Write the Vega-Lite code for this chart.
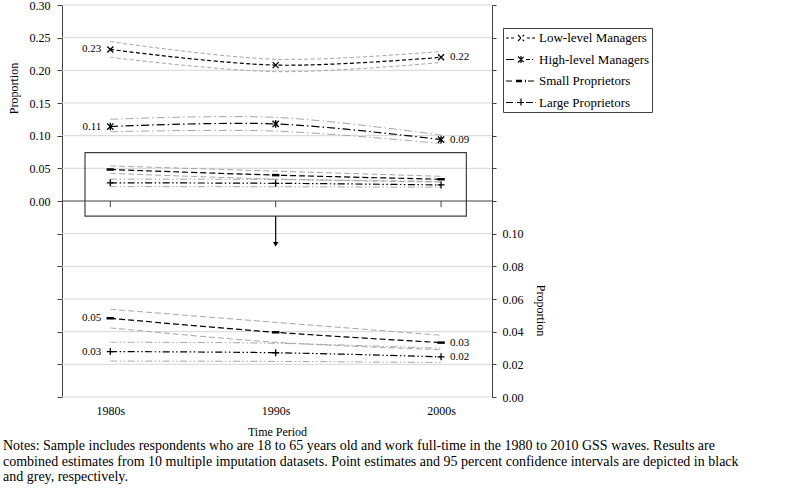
{
  "$schema": "https://vega.github.io/schema/vega-lite/v6.json",
  "width": 430,
  "height": 392,
  "autosize": {"type": "none"},
  "padding": {"left": 62, "top": 5, "right": 308, "bottom": 101},
  "background": "white",
  "config": {
    "view": {"stroke": null},
    "font": "Liberation Serif",
    "axis": {
      "labelFont": "Liberation Serif", "labelFontSize": 12, "labelColor": "black",
      "titleFont": "Liberation Serif", "titleFontSize": 12, "titleFontWeight": "normal", "titleColor": "black",
      "domainColor": "#404040", "tickColor": "#404040",
      "labelFlush": false, "labelOverlap": false
    }
  },
  "title": {
    "text": [
      "Notes: Sample includes respondents who are 18 to 65 years old and work full-time in the 1980 to 2010 GSS waves. Results are",
      "combined estimates from 10 multiple imputation datasets. Point estimates and 95 percent confidence intervals are depicted in black",
      "and grey, respectively."
    ],
    "orient": "bottom", "anchor": "start", "frame": "group",
    "font": "Liberation Serif", "fontSize": 14, "fontWeight": "normal", "color": "black",
    "lineHeight": 15.5, "dx": -59, "offset": 2
  },
  "datasets": {
    "est": [
      {"period": 1980, "series": "Low-level Managers", "est": 0.232, "lo": 0.220, "hi": 0.244},
      {"period": 1990, "series": "Low-level Managers", "est": 0.208, "lo": 0.198, "hi": 0.217},
      {"period": 2000, "series": "Low-level Managers", "est": 0.220, "lo": 0.212, "hi": 0.229},
      {"period": 1980, "series": "High-level Managers", "est": 0.114, "lo": 0.106, "hi": 0.125},
      {"period": 1990, "series": "High-level Managers", "est": 0.118, "lo": 0.107, "hi": 0.128},
      {"period": 2000, "series": "High-level Managers", "est": 0.094, "lo": 0.088, "hi": 0.101},
      {"period": 1980, "series": "Small Proprietors", "est": 0.0482, "lo": 0.0423, "hi": 0.0537},
      {"period": 1990, "series": "Small Proprietors", "est": 0.0396, "lo": 0.0335, "hi": 0.0457},
      {"period": 2000, "series": "Small Proprietors", "est": 0.0333, "lo": 0.0290, "hi": 0.0378},
      {"period": 1980, "series": "Large Proprietors", "est": 0.0278, "lo": 0.0220, "hi": 0.0335},
      {"period": 1990, "series": "Large Proprietors", "est": 0.0271, "lo": 0.0218, "hi": 0.0329},
      {"period": 2000, "series": "Large Proprietors", "est": 0.0246, "lo": 0.0211, "hi": 0.0298}
    ],
    "gridlines": [
      {"v": -0.3}, {"v": -0.25}, {"v": -0.2}, {"v": -0.15}, {"v": -0.1}, {"v": -0.05},
      {"v": 0.05}, {"v": 0.1}, {"v": 0.15}, {"v": 0.2}, {"v": 0.25}, {"v": 0.3}
    ],
    "box": [{"x1": 1978.47, "x2": 2001.53, "y1": 0.0739, "y2": -0.023}],
    "arrow": [{"period": 1990, "y1": -0.023, "y2": -0.0628, "tip": -0.0662}]
  },
  "data": {"name": "est"},
  "layer": [
    {
      "layer": [
        {
          "data": {"name": "gridlines"},
          "mark": {"type": "rule", "color": "#d6d6d6", "strokeWidth": 1},
          "encoding": {
            "y": {"field": "v", "type": "quantitative",
              "scale": {"domain": [-0.3, 0.3], "nice": false, "zero": false},
              "axis": {"orient": "left", "values": [-0.3, -0.25, -0.2, -0.15, -0.1, -0.05, 0, 0.05, 0.1, 0.15, 0.2, 0.25, 0.3], "format": ".2f", "labelExpr": "datum.value > -0.001 ? datum.label : ''", "title": "Proportion", "titleX": -49, "titleY": 83, "titleAngle": -90, "titleBaseline": "middle", "grid": false, "tickSize": 5, "labelPadding": 7}}
          }
        },
        {
          "mark": {"type": "line", "interpolate": "catmull-rom", "color": "#a6a6a6", "strokeWidth": 1},
          "encoding": {
            "x": {"field": "period", "type": "quantitative",
              "scale": {"domain": [1977.08, 2003.08], "nice": false, "zero": false},
              "axis": {"values": [1980, 1990, 2000], "labelExpr": "datum.value + 's'", "ticks": false, "domain": false, "grid": false, "title": "Time Period", "labelPadding": 8, "titlePadding": 10}},
            "y": {"field": "hi", "type": "quantitative",
              "axis": {"orient": "left", "values": [-0.3, -0.25, -0.2, -0.15, -0.1, -0.05, 0, 0.05, 0.1, 0.15, 0.2, 0.25, 0.3], "format": ".2f", "labelExpr": "datum.value > -0.001 ? datum.label : ''", "title": "Proportion", "titleX": -49, "titleY": 83, "titleAngle": -90, "titleBaseline": "middle", "grid": false, "tickSize": 5, "labelPadding": 7}},
            "strokeDash": {"field": "series", "type": "nominal",
              "scale": {"domain": ["Low-level Managers", "High-level Managers", "Small Proprietors", "Large Proprietors"],
                "range": [[4, 2.5], [8, 3, 1.5, 3], [6, 3], [7, 2.5, 1.5, 2.5, 1.5, 2.5]]},
              "legend": {
                "orient": "none", "legendX": 441, "legendY": 23, "title": null,
                "symbolType": "stroke", "symbolSize": 196, "symbolStrokeWidth": 1.2, "symbolStrokeColor": "black",
                "labelFont": "Liberation Serif", "labelFontSize": 13, "labelColor": "black",
                "strokeColor": "#404040", "fillColor": "white", "padding": 2, "rowPadding": 6.5, "labelOffset": 18,
                "encode": {"symbols": {"update": {
                  "shape": {"signal": "datum.value === 'Low-level Managers' ? 'M-1,0L-0.571,0M-0.286,0L0.143,0M0.714,-0.429L1.571,0.429M0.714,0.429L1.571,-0.429M2,0L2.429,0M2.714,0L3.143,0' : datum.value === 'High-level Managers' ? 'M-1,0L0.286,0M0.714,-0.429L1.571,0.429M0.714,0.429L1.571,-0.429M1.143,-0.5L1.143,0.5M1.857,0L2.429,0M2.714,0L2.857,0' : datum.value === 'Small Proprietors' ? 'M-1,0L0.143,0M0.429,0L1.857,0M0.429,-0.08L1.857,-0.08M0.429,0.08L1.857,0.08M2.143,0L3.286,0' : 'M-1,0L0.429,0M0.571,0L1.714,0M1.143,-0.571L1.143,0.571M1.857,0L3.286,0'"},
                  "size": {"value": 196},
                  "strokeWidth": {"value": 1.2},
                  "strokeDash": {"value": []},
                  "stroke": {"value": "black"}
                }}}
              }}
          }
        },
        {
          "mark": {"type": "line", "interpolate": "catmull-rom", "color": "#a6a6a6", "strokeWidth": 1},
          "encoding": {
            "x": {"field": "period", "type": "quantitative", "axis": {"values": [1980, 1990, 2000], "labelExpr": "datum.value + 's'", "ticks": false, "domain": false, "grid": false, "title": "Time Period", "labelPadding": 8, "titlePadding": 10}},
            "y": {"field": "lo", "type": "quantitative", "axis": {"orient": "left", "values": [-0.3, -0.25, -0.2, -0.15, -0.1, -0.05, 0, 0.05, 0.1, 0.15, 0.2, 0.25, 0.3], "format": ".2f", "labelExpr": "datum.value > -0.001 ? datum.label : ''", "title": "Proportion", "titleX": -49, "titleY": 83, "titleAngle": -90, "titleBaseline": "middle", "grid": false, "tickSize": 5, "labelPadding": 7}},
            "strokeDash": {"field": "series", "type": "nominal", "legend": null}
          }
        },
        {
          "mark": {"type": "line", "interpolate": "catmull-rom", "color": "black", "strokeWidth": 1.2},
          "encoding": {
            "x": {"field": "period", "type": "quantitative", "axis": {"values": [1980, 1990, 2000], "labelExpr": "datum.value + 's'", "ticks": false, "domain": false, "grid": false, "title": "Time Period", "labelPadding": 8, "titlePadding": 10}},
            "y": {"field": "est", "type": "quantitative", "axis": {"orient": "left", "values": [-0.3, -0.25, -0.2, -0.15, -0.1, -0.05, 0, 0.05, 0.1, 0.15, 0.2, 0.25, 0.3], "format": ".2f", "labelExpr": "datum.value > -0.001 ? datum.label : ''", "title": "Proportion", "titleX": -49, "titleY": 83, "titleAngle": -90, "titleBaseline": "middle", "grid": false, "tickSize": 5, "labelPadding": 7}},
            "strokeDash": {"field": "series", "type": "nominal", "legend": null}
          }
        },
        {
          "mark": {"type": "point", "filled": false, "color": "black", "opacity": 1},
          "encoding": {
            "x": {"field": "period", "type": "quantitative", "axis": {"values": [1980, 1990, 2000], "labelExpr": "datum.value + 's'", "ticks": false, "domain": false, "grid": false, "title": "Time Period", "labelPadding": 8, "titlePadding": 10}},
            "y": {"field": "est", "type": "quantitative", "axis": {"orient": "left", "values": [-0.3, -0.25, -0.2, -0.15, -0.1, -0.05, 0, 0.05, 0.1, 0.15, 0.2, 0.25, 0.3], "format": ".2f", "labelExpr": "datum.value > -0.001 ? datum.label : ''", "title": "Proportion", "titleX": -49, "titleY": 83, "titleAngle": -90, "titleBaseline": "middle", "grid": false, "tickSize": 5, "labelPadding": 7}},
            "shape": {"condition": [
              {"test": "datum.series === 'Low-level Managers'", "value": "M-1,-1L1,1M-1,1L1,-1"},
              {"test": "datum.series === 'High-level Managers'", "value": "M-1,-1L1,1M-1,1L1,-1M0,-1.2L0,1.2"},
              {"test": "datum.series === 'Small Proprietors'", "value": "M-1,0L1,0"}],
              "value": "M-1,0L1,0M0,-1L0,1"},
            "size": {"condition": [
              {"test": "datum.series === 'Low-level Managers'", "value": 36},
              {"test": "datum.series === 'High-level Managers'", "value": 40},
              {"test": "datum.series === 'Small Proprietors'", "value": 56}],
              "value": 49},
            "strokeWidth": {"condition": {"test": "datum.series === 'Small Proprietors'", "value": 2.5}, "value": 1.3}
          }
        },
        {
          "transform": [{"filter": "datum.period === 1980 && (datum.series === 'Low-level Managers' || datum.series === 'High-level Managers')"}],
          "mark": {"type": "text", "align": "right", "baseline": "middle", "dx": -9, "font": "Liberation Serif", "fontSize": 11, "color": "black"},
          "encoding": {
            "x": {"field": "period", "type": "quantitative", "axis": {"values": [1980, 1990, 2000], "labelExpr": "datum.value + 's'", "ticks": false, "domain": false, "grid": false, "title": "Time Period", "labelPadding": 8, "titlePadding": 10}},
            "y": {"field": "est", "type": "quantitative", "axis": {"orient": "left", "values": [-0.3, -0.25, -0.2, -0.15, -0.1, -0.05, 0, 0.05, 0.1, 0.15, 0.2, 0.25, 0.3], "format": ".2f", "labelExpr": "datum.value > -0.001 ? datum.label : ''", "title": "Proportion", "titleX": -49, "titleY": 83, "titleAngle": -90, "titleBaseline": "middle", "grid": false, "tickSize": 5, "labelPadding": 7}},
            "text": {"field": "est", "type": "quantitative", "format": ".2f"}
          }
        },
        {
          "transform": [{"filter": "datum.period === 2000 && (datum.series === 'Low-level Managers' || datum.series === 'High-level Managers')"}],
          "mark": {"type": "text", "align": "left", "baseline": "middle", "dx": 9, "font": "Liberation Serif", "fontSize": 11, "color": "black"},
          "encoding": {
            "x": {"field": "period", "type": "quantitative", "axis": {"values": [1980, 1990, 2000], "labelExpr": "datum.value + 's'", "ticks": false, "domain": false, "grid": false, "title": "Time Period", "labelPadding": 8, "titlePadding": 10}},
            "y": {"field": "est", "type": "quantitative", "axis": {"orient": "left", "values": [-0.3, -0.25, -0.2, -0.15, -0.1, -0.05, 0, 0.05, 0.1, 0.15, 0.2, 0.25, 0.3], "format": ".2f", "labelExpr": "datum.value > -0.001 ? datum.label : ''", "title": "Proportion", "titleX": -49, "titleY": 83, "titleAngle": -90, "titleBaseline": "middle", "grid": false, "tickSize": 5, "labelPadding": 7}},
            "text": {"field": "est", "type": "quantitative", "format": ".2f"}
          }
        },
        {
          "data": {"name": "box"},
          "mark": {"type": "rule", "color": "#404040", "strokeWidth": 1.2},
          "encoding": {"y": {"datum": 0, "type": "quantitative", "axis": {"orient": "left", "values": [-0.3, -0.25, -0.2, -0.15, -0.1, -0.05, 0, 0.05, 0.1, 0.15, 0.2, 0.25, 0.3], "format": ".2f", "labelExpr": "datum.value > -0.001 ? datum.label : ''", "title": "Proportion", "titleX": -49, "titleY": 83, "titleAngle": -90, "titleBaseline": "middle", "grid": false, "tickSize": 5, "labelPadding": 7}}}
        },
        {
          "transform": [{"filter": "datum.series === 'Low-level Managers'"}],
          "mark": {"type": "rule", "color": "#404040", "strokeWidth": 1},
          "encoding": {
            "x": {"field": "period", "type": "quantitative", "axis": {"values": [1980, 1990, 2000], "labelExpr": "datum.value + 's'", "ticks": false, "domain": false, "grid": false, "title": "Time Period", "labelPadding": 8, "titlePadding": 10}},
            "y": {"datum": 0, "type": "quantitative", "axis": {"orient": "left", "values": [-0.3, -0.25, -0.2, -0.15, -0.1, -0.05, 0, 0.05, 0.1, 0.15, 0.2, 0.25, 0.3], "format": ".2f", "labelExpr": "datum.value > -0.001 ? datum.label : ''", "title": "Proportion", "titleX": -49, "titleY": 83, "titleAngle": -90, "titleBaseline": "middle", "grid": false, "tickSize": 5, "labelPadding": 7}},
            "y2": {"datum": -0.0095}
          }
        },
        {
          "data": {"name": "box"},
          "mark": {"type": "rect", "filled": false, "color": "#404040", "strokeWidth": 1.2},
          "encoding": {
            "x": {"field": "x1", "type": "quantitative", "axis": {"values": [1980, 1990, 2000], "labelExpr": "datum.value + 's'", "ticks": false, "domain": false, "grid": false, "title": "Time Period", "labelPadding": 8, "titlePadding": 10}},
            "x2": {"field": "x2"},
            "y": {"field": "y1", "type": "quantitative", "axis": {"orient": "left", "values": [-0.3, -0.25, -0.2, -0.15, -0.1, -0.05, 0, 0.05, 0.1, 0.15, 0.2, 0.25, 0.3], "format": ".2f", "labelExpr": "datum.value > -0.001 ? datum.label : ''", "title": "Proportion", "titleX": -49, "titleY": 83, "titleAngle": -90, "titleBaseline": "middle", "grid": false, "tickSize": 5, "labelPadding": 7}},
            "y2": {"field": "y2"}
          }
        },
        {
          "data": {"name": "arrow"},
          "mark": {"type": "rule", "color": "black", "strokeWidth": 1.2},
          "encoding": {
            "x": {"field": "period", "type": "quantitative", "axis": {"values": [1980, 1990, 2000], "labelExpr": "datum.value + 's'", "ticks": false, "domain": false, "grid": false, "title": "Time Period", "labelPadding": 8, "titlePadding": 10}},
            "y": {"field": "y1", "type": "quantitative", "axis": {"orient": "left", "values": [-0.3, -0.25, -0.2, -0.15, -0.1, -0.05, 0, 0.05, 0.1, 0.15, 0.2, 0.25, 0.3], "format": ".2f", "labelExpr": "datum.value > -0.001 ? datum.label : ''", "title": "Proportion", "titleX": -49, "titleY": 83, "titleAngle": -90, "titleBaseline": "middle", "grid": false, "tickSize": 5, "labelPadding": 7}},
            "y2": {"field": "y2"}
          }
        },
        {
          "data": {"name": "arrow"},
          "mark": {"type": "point", "shape": "triangle-down", "filled": true, "color": "black", "size": 30, "opacity": 1},
          "encoding": {
            "x": {"field": "period", "type": "quantitative", "axis": {"values": [1980, 1990, 2000], "labelExpr": "datum.value + 's'", "ticks": false, "domain": false, "grid": false, "title": "Time Period", "labelPadding": 8, "titlePadding": 10}},
            "y": {"field": "tip", "type": "quantitative", "axis": {"orient": "left", "values": [-0.3, -0.25, -0.2, -0.15, -0.1, -0.05, 0, 0.05, 0.1, 0.15, 0.2, 0.25, 0.3], "format": ".2f", "labelExpr": "datum.value > -0.001 ? datum.label : ''", "title": "Proportion", "titleX": -49, "titleY": 83, "titleAngle": -90, "titleBaseline": "middle", "grid": false, "tickSize": 5, "labelPadding": 7}}
          }
        }
      ]
    },
    {
      "transform": [{"filter": "datum.series === 'Small Proprietors' || datum.series === 'Large Proprietors'"}],
      "layer": [
        {
          "mark": {"type": "line", "interpolate": "catmull-rom", "color": "#a6a6a6", "strokeWidth": 1},
          "encoding": {
            "x": {"field": "period", "type": "quantitative", "axis": {"values": [1980, 1990, 2000], "labelExpr": "datum.value + 's'", "ticks": false, "domain": false, "grid": false, "title": "Time Period", "labelPadding": 8, "titlePadding": 10}},
            "y": {"field": "hi", "type": "quantitative",
              "scale": {"domain": [0, 0.24], "nice": false, "zero": false},
              "axis": {"orient": "right", "values": [0, 0.02, 0.04, 0.06, 0.08, 0.1, 0.12, 0.14, 0.16, 0.18, 0.2, 0.22, 0.24], "format": ".2f", "labelExpr": "datum.value < 0.101 ? datum.label : ''", "title": "Proportion", "titleX": 48, "titleY": 305, "titleAngle": 90, "titleBaseline": "middle", "grid": false, "tickSize": 4, "labelPadding": 6}},
            "strokeDash": {"field": "series", "type": "nominal", "legend": null}
          }
        },
        {
          "mark": {"type": "line", "interpolate": "catmull-rom", "color": "#a6a6a6", "strokeWidth": 1},
          "encoding": {
            "x": {"field": "period", "type": "quantitative", "axis": {"values": [1980, 1990, 2000], "labelExpr": "datum.value + 's'", "ticks": false, "domain": false, "grid": false, "title": "Time Period", "labelPadding": 8, "titlePadding": 10}},
            "y": {"field": "lo", "type": "quantitative", "axis": {"orient": "right", "values": [0, 0.02, 0.04, 0.06, 0.08, 0.1, 0.12, 0.14, 0.16, 0.18, 0.2, 0.22, 0.24], "format": ".2f", "labelExpr": "datum.value < 0.101 ? datum.label : ''", "title": "Proportion", "titleX": 48, "titleY": 305, "titleAngle": 90, "titleBaseline": "middle", "grid": false, "tickSize": 4, "labelPadding": 6}},
            "strokeDash": {"field": "series", "type": "nominal", "legend": null}
          }
        },
        {
          "mark": {"type": "line", "interpolate": "catmull-rom", "color": "black", "strokeWidth": 1.2},
          "encoding": {
            "x": {"field": "period", "type": "quantitative", "axis": {"values": [1980, 1990, 2000], "labelExpr": "datum.value + 's'", "ticks": false, "domain": false, "grid": false, "title": "Time Period", "labelPadding": 8, "titlePadding": 10}},
            "y": {"field": "est", "type": "quantitative", "axis": {"orient": "right", "values": [0, 0.02, 0.04, 0.06, 0.08, 0.1, 0.12, 0.14, 0.16, 0.18, 0.2, 0.22, 0.24], "format": ".2f", "labelExpr": "datum.value < 0.101 ? datum.label : ''", "title": "Proportion", "titleX": 48, "titleY": 305, "titleAngle": 90, "titleBaseline": "middle", "grid": false, "tickSize": 4, "labelPadding": 6}},
            "strokeDash": {"field": "series", "type": "nominal", "legend": null}
          }
        },
        {
          "mark": {"type": "point", "filled": false, "color": "black", "opacity": 1},
          "encoding": {
            "x": {"field": "period", "type": "quantitative", "axis": {"values": [1980, 1990, 2000], "labelExpr": "datum.value + 's'", "ticks": false, "domain": false, "grid": false, "title": "Time Period", "labelPadding": 8, "titlePadding": 10}},
            "y": {"field": "est", "type": "quantitative", "axis": {"orient": "right", "values": [0, 0.02, 0.04, 0.06, 0.08, 0.1, 0.12, 0.14, 0.16, 0.18, 0.2, 0.22, 0.24], "format": ".2f", "labelExpr": "datum.value < 0.101 ? datum.label : ''", "title": "Proportion", "titleX": 48, "titleY": 305, "titleAngle": 90, "titleBaseline": "middle", "grid": false, "tickSize": 4, "labelPadding": 6}},
            "shape": {"condition": [
              {"test": "datum.series === 'Small Proprietors'", "value": "M-1,0L1,0"}],
              "value": "M-1,0L1,0M0,-1L0,1"},
            "size": {"condition": [
              {"test": "datum.series === 'Small Proprietors'", "value": 56}],
              "value": 49},
            "strokeWidth": {"condition": {"test": "datum.series === 'Small Proprietors'", "value": 2.5}, "value": 1.3}
          }
        },
        {
          "transform": [{"filter": "datum.period === 1980"}],
          "mark": {"type": "text", "align": "right", "baseline": "middle", "dx": -9, "font": "Liberation Serif", "fontSize": 11, "color": "black"},
          "encoding": {
            "x": {"field": "period", "type": "quantitative", "axis": {"values": [1980, 1990, 2000], "labelExpr": "datum.value + 's'", "ticks": false, "domain": false, "grid": false, "title": "Time Period", "labelPadding": 8, "titlePadding": 10}},
            "y": {"field": "est", "type": "quantitative", "axis": {"orient": "right", "values": [0, 0.02, 0.04, 0.06, 0.08, 0.1, 0.12, 0.14, 0.16, 0.18, 0.2, 0.22, 0.24], "format": ".2f", "labelExpr": "datum.value < 0.101 ? datum.label : ''", "title": "Proportion", "titleX": 48, "titleY": 305, "titleAngle": 90, "titleBaseline": "middle", "grid": false, "tickSize": 4, "labelPadding": 6}},
            "text": {"field": "est", "type": "quantitative", "format": ".2f"}
          }
        },
        {
          "transform": [{"filter": "datum.period === 2000"}],
          "mark": {"type": "text", "align": "left", "baseline": "middle", "dx": 9, "font": "Liberation Serif", "fontSize": 11, "color": "black"},
          "encoding": {
            "x": {"field": "period", "type": "quantitative", "axis": {"values": [1980, 1990, 2000], "labelExpr": "datum.value + 's'", "ticks": false, "domain": false, "grid": false, "title": "Time Period", "labelPadding": 8, "titlePadding": 10}},
            "y": {"field": "est", "type": "quantitative", "axis": {"orient": "right", "values": [0, 0.02, 0.04, 0.06, 0.08, 0.1, 0.12, 0.14, 0.16, 0.18, 0.2, 0.22, 0.24], "format": ".2f", "labelExpr": "datum.value < 0.101 ? datum.label : ''", "title": "Proportion", "titleX": 48, "titleY": 305, "titleAngle": 90, "titleBaseline": "middle", "grid": false, "tickSize": 4, "labelPadding": 6}},
            "text": {"field": "est", "type": "quantitative", "format": ".2f"}
          }
        }
      ]
    }
  ],
  "resolve": {"scale": {"y": "independent"}}
}
